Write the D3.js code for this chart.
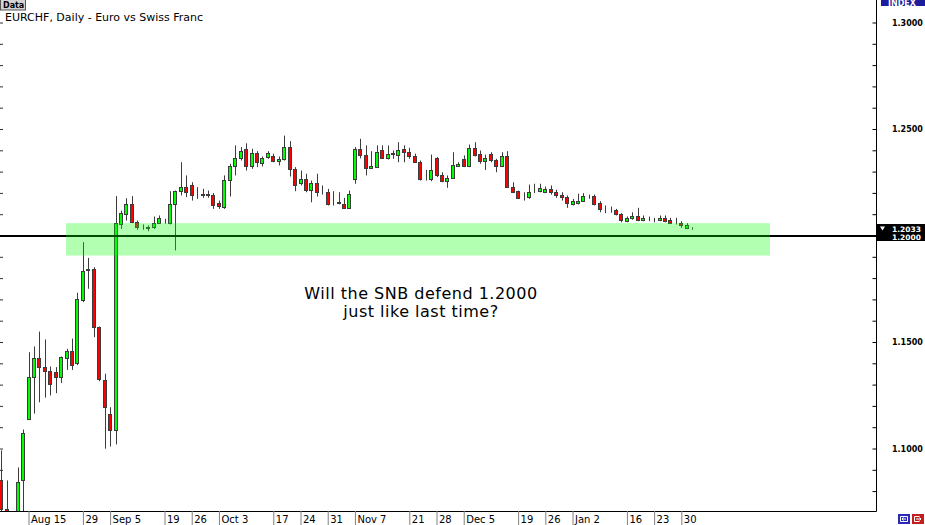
<!DOCTYPE html>
<html>
<head>
<meta charset="utf-8">
<script src="https://cdn.jsdelivr.net/npm/d3@7/dist/d3.min.js"></script>
<style>
body { margin: 0; background: #fff; }
svg { display: block; }
</style>
</head>
<body>
<div id="chart"></div>
<script>
// EURCHF daily bars, Aug 8 2011 - Feb 1 2012
var dates = [
  "2011-08-08","2011-08-09","2011-08-10","2011-08-11","2011-08-12",
  "2011-08-15","2011-08-16","2011-08-17","2011-08-18","2011-08-19",
  "2011-08-22","2011-08-23","2011-08-24","2011-08-25","2011-08-26",
  "2011-08-29","2011-08-30","2011-08-31","2011-09-01","2011-09-02",
  "2011-09-05","2011-09-06","2011-09-07","2011-09-08","2011-09-09",
  "2011-09-12","2011-09-13","2011-09-14","2011-09-15","2011-09-16",
  "2011-09-19","2011-09-20","2011-09-21","2011-09-22","2011-09-23",
  "2011-09-26","2011-09-27","2011-09-28","2011-09-29","2011-09-30",
  "2011-10-03","2011-10-04","2011-10-05","2011-10-06","2011-10-07",
  "2011-10-10","2011-10-11","2011-10-12","2011-10-13","2011-10-14",
  "2011-10-17","2011-10-18","2011-10-19","2011-10-20","2011-10-21",
  "2011-10-24","2011-10-25","2011-10-26","2011-10-27","2011-10-28",
  "2011-10-31","2011-11-01","2011-11-02","2011-11-03","2011-11-04",
  "2011-11-07","2011-11-08","2011-11-09","2011-11-10","2011-11-11",
  "2011-11-14","2011-11-15","2011-11-16","2011-11-17","2011-11-18",
  "2011-11-21","2011-11-22","2011-11-23","2011-11-24","2011-11-25",
  "2011-11-28","2011-11-29","2011-11-30","2011-12-01","2011-12-02",
  "2011-12-05","2011-12-06","2011-12-07","2011-12-08","2011-12-09",
  "2011-12-12","2011-12-13","2011-12-14","2011-12-15","2011-12-16",
  "2011-12-19","2011-12-20","2011-12-21","2011-12-22","2011-12-23",
  "2011-12-26","2011-12-27","2011-12-28","2011-12-29","2011-12-30",
  "2012-01-02","2012-01-03","2012-01-04","2012-01-05","2012-01-06",
  "2012-01-09","2012-01-10","2012-01-11","2012-01-12","2012-01-13",
  "2012-01-16","2012-01-17","2012-01-18","2012-01-19","2012-01-20",
  "2012-01-23","2012-01-24","2012-01-25","2012-01-26","2012-01-27",
  "2012-01-30","2012-01-31","2012-02-01"
];
var opens = [
  1.0850,1.0718,1.0450,1.0550,1.0850, 1.1139,1.1338,1.1426,1.1382,1.1366,
  1.1357,1.1338,1.1426,1.1457,1.1400, 1.1698,1.1844,1.1844,1.1570,1.1323,
  1.1160,1.1088,1.2052,1.2102,1.2149, 1.2062,1.2039,1.2033,1.2042,1.2060,
  1.2063,1.2058,1.2149,1.2211,1.2227, 1.2235,1.2192,1.2191,1.2193,1.2192,
  1.2154,1.2136,1.2262,1.2324,1.2363, 1.2404,1.2325,1.2386,1.2341,1.2368,
  1.2371,1.2349,1.2360,1.2415,1.2313, 1.2246,1.2266,1.2215,1.2247,1.2204,
  1.2203,1.2151,1.2154,1.2149,1.2128, 1.2266,1.2407,1.2380,1.2316,1.2321,
  1.2402,1.2365,1.2384,1.2380,1.2404, 1.2394,1.2372,1.2347,1.2266,1.2266,
  1.2363,1.2285,1.2255,1.2271,1.2327, 1.2360,1.2325,1.2412,1.2384,1.2349,
  1.2384,1.2355,1.2325,1.2371,1.2230, 1.2207,1.2180,1.2180,1.2207,1.2208,
  1.2203,1.2219,1.2203,1.2192,1.2180, 1.2149,1.2152,1.2164,1.2185,1.2185,
  1.2152,1.2122,1.2121,1.2121,1.2099, 1.2067,1.2083,1.2092,1.2074,1.2078,
  1.2074,1.2074,1.2083,1.2074,1.2058, 1.2058,1.2034,1.2034
];
var highs = [
  1.0991,1.0850,1.0650,1.0911,1.1089, 1.1452,1.1479,1.1549,1.1512,1.1385,
  1.1382,1.1432,1.1468,1.1516,1.1731, 1.1969,1.1895,1.1851,1.1573,1.1351,
  1.1194,1.2185,1.2117,1.2175,1.2185, 1.2070,1.2052,1.2047,1.2089,1.2094,
  1.2078,1.2208,1.2211,1.2344,1.2282, 1.2250,1.2227,1.2219,1.2211,1.2199,
  1.2164,1.2282,1.2337,1.2423,1.2415, 1.2433,1.2407,1.2396,1.2371,1.2396,
  1.2384,1.2371,1.2469,1.2443,1.2321, 1.2305,1.2290,1.2258,1.2290,1.2235,
  1.2219,1.2208,1.2203,1.2177,1.2211, 1.2415,1.2454,1.2423,1.2396,1.2423,
  1.2423,1.2423,1.2399,1.2438,1.2423, 1.2412,1.2384,1.2352,1.2308,1.2380,
  1.2368,1.2297,1.2282,1.2391,1.2344, 1.2376,1.2427,1.2438,1.2399,1.2380,
  1.2391,1.2360,1.2391,1.2396,1.2250, 1.2211,1.2203,1.2239,1.2243,1.2243,
  1.2230,1.2235,1.2215,1.2203,1.2188, 1.2172,1.2196,1.2199,1.2192,1.2192,
  1.2161,1.2141,1.2136,1.2125,1.2105, 1.2089,1.2109,1.2130,1.2094,1.2089,
  1.2083,1.2094,1.2094,1.2083,1.2083, 1.2067,1.2058,1.2039
];
var lows = [
  1.0620,1.0075,1.0300,1.0500,1.0680, 1.1135,1.1164,1.1217,1.1239,1.1249,
  1.1260,1.1307,1.1369,1.1369,1.1391, 1.1687,1.1750,1.1523,1.1316,1.0999,
  1.1009,1.1019,1.2031,1.2070,1.2058, 1.2027,1.2027,1.2020,1.2031,1.2055,
  1.2055,1.2052,1.1930,1.2188,1.2180, 1.2164,1.2172,1.2177,1.2177,1.2125,
  1.2125,1.2125,1.2183,1.2282,1.2352, 1.2305,1.2313,1.2321,1.2324,1.2360,
  1.2344,1.2329,1.2352,1.2277,1.2208, 1.2235,1.2203,1.2156,1.2183,1.2192,
  1.2141,1.2141,1.2146,1.2125,1.2125, 1.2243,1.2362,1.2282,1.2313,1.2318,
  1.2360,1.2357,1.2360,1.2344,1.2344, 1.2360,1.2341,1.2258,1.2258,1.2255,
  1.2274,1.2250,1.2224,1.2266,1.2324, 1.2321,1.2321,1.2371,1.2337,1.2308,
  1.2344,1.2297,1.2321,1.2224,1.2199, 1.2172,1.2164,1.2172,1.2199,1.2203,
  1.2199,1.2192,1.2177,1.2164,1.2130, 1.2141,1.2146,1.2160,1.2172,1.2141,
  1.2109,1.2105,1.2107,1.2094,1.2062, 1.2062,1.2074,1.2067,1.2067,1.2067,
  1.2062,1.2067,1.2062,1.2055,1.2052, 1.2036,1.2030,1.2027
];
var closes = [
  1.0718,1.0680,1.0550,1.0845,1.1072, 1.1338,1.1426,1.1382,1.1366,1.1304,
  1.1338,1.1429,1.1457,1.1394,1.1703, 1.1831,1.1840,1.1570,1.1327,1.1197,
  1.1085,1.2058,1.2105,1.2149,1.2062, 1.2042,1.2040,1.2042,1.2060,1.2083,
  1.2062,1.2149,1.2208,1.2227,1.2203, 1.2192,1.2191,1.2193,1.2192,1.2141,
  1.2139,1.2262,1.2324,1.2363,1.2399, 1.2325,1.2388,1.2344,1.2365,1.2386,
  1.2352,1.2360,1.2415,1.2313,1.2235, 1.2266,1.2215,1.2247,1.2203,1.2203,
  1.2149,1.2152,1.2155,1.2130,1.2196, 1.2407,1.2380,1.2318,1.2324,1.2394,
  1.2365,1.2384,1.2385,1.2402,1.2394, 1.2371,1.2347,1.2266,1.2267,1.2308,
  1.2282,1.2255,1.2271,1.2329,1.2337, 1.2325,1.2412,1.2380,1.2349,1.2365,
  1.2355,1.2325,1.2371,1.2230,1.2202, 1.2175,1.2180,1.2203,1.2208,1.2224,
  1.2219,1.2202,1.2191,1.2180,1.2154, 1.2164,1.2164,1.2185,1.2184,1.2146,
  1.2125,1.2122,1.2120,1.2099,1.2074, 1.2083,1.2092,1.2074,1.2083,1.2079,
  1.2073,1.2083,1.2070,1.2060,1.2057, 1.2047,1.2048,1.2033
];

var tickDates = ["2011-08-15","2011-08-29","2011-09-05","2011-09-19","2011-09-26",
  "2011-10-03","2011-10-17","2011-10-24","2011-10-31","2011-11-07","2011-11-21",
  "2011-11-28","2011-12-05","2011-12-19","2011-12-26","2012-01-02","2012-01-16",
  "2012-01-23","2012-01-30"];
var tickLabels = ["Aug 15","29","Sep 5","19","26","Oct 3","17","24","31","Nov 7",
  "21","28","Dec 5","19","26","Jan 2","16","23","30"];
var priceLabels = [1.1, 1.15, 1.25, 1.3];
var priceTicks = [1.08,1.09,1.10,1.11,1.12,1.13,1.14,1.15,1.16,1.17,1.18,1.19,1.20,
  1.21,1.22,1.23,1.24,1.25,1.26,1.27,1.28,1.29,1.30];

var floorLevel = 1.2000,
    lastPrice = 1.2033,
    zoneTop = 1.2058,
    zoneBottom = 1.1906;

var width = 925, height = 525,
    plotRight = 876, plotBottom = 511;

var svg = d3.select("#chart").append("svg")
    .attr("width", width)
    .attr("height", height)
    .style("font-family", "'DejaVu Sans', sans-serif");

var x = d3.scalePoint()
    .domain(dates)
    .range([1.3, 692.2]);
var y = d3.scaleLinear()
    .domain([1.1, 1.3])
    .range([448.5, 22.5]);

var bars = dates.map(function(d, i) {
  return {date: d, o: opens[i], h: highs[i], l: lows[i], c: closes[i]};
});

svg.append("clipPath")
    .attr("id", "plot-clip")
  .append("rect")
    .attr("width", plotRight)
    .attr("height", plotBottom);

var plot = svg.append("g")
    .attr("clip-path", "url(#plot-clip)");

// small ticks on the left edge
plot.append("g")
    .attr("class", "left ticks")
    .call(d3.axisRight(y).tickValues(priceTicks).tickSize(3).tickFormat(""))
    .call(function(g) { g.select(".domain").remove(); })
    .selectAll("line").attr("stroke", "#333");

// candles
var candle = plot.selectAll(".candle")
    .data(bars)
    .enter().append("g")
    .attr("class", "candle");

candle.append("line")
    .attr("x1", function(d) { return Math.round(x(d.date)) + 0.5; })
    .attr("x2", function(d) { return Math.round(x(d.date)) + 0.5; })
    .attr("y1", function(d) { return y(d.h); })
    .attr("y2", function(d) { return y(d.l); })
    .attr("stroke", "#3c3c3c")
    .attr("stroke-width", 1);

candle.append("rect")
    .attr("x", function(d) { return Math.round(x(d.date)) - 1.5; })
    .attr("width", 3)
    .attr("y", function(d) { return Math.round(y(Math.max(d.o, d.c))) + 0.5; })
    .attr("height", function(d) { return Math.max(0, Math.round(y(Math.min(d.o, d.c))) - Math.round(y(Math.max(d.o, d.c)))); })
    .attr("fill", function(d) { return d.c >= d.o ? "#00ff00" : "#ff0000"; })
    .attr("stroke", "#3c3c3c")
    .attr("stroke-width", 1);

// 1.2000 floor line
plot.append("line")
    .attr("x1", 0)
    .attr("x2", plotRight)
    .attr("y1", y(floorLevel) + 0.5)
    .attr("y2", y(floorLevel) + 0.5)
    .attr("stroke", "#000")
    .attr("stroke-width", 2);

// highlighted zone
plot.append("rect")
    .attr("x", 66)
    .attr("width", 704)
    .attr("y", y(zoneTop))
    .attr("height", y(zoneBottom) - y(zoneTop))
    .attr("fill", "#00ff00")
    .attr("fill-opacity", 0.3);

// annotation
svg.append("text")
    .attr("x", 421)
    .attr("y", 299)
    .attr("text-anchor", "middle")
    .style("font-size", "16px")
    .style("letter-spacing", "0.5px")
    .text("Will the SNB defend 1.2000");
svg.append("text")
    .attr("x", 421)
    .attr("y", 317)
    .attr("text-anchor", "middle")
    .style("font-size", "16px")
    .style("letter-spacing", "0.5px")
    .text("just like last time?");

// frame
svg.append("path")
    .attr("d", "M0," + (plotBottom + 0.5) + "H" + (plotRight + 0.5) + "V0")
    .attr("fill", "none")
    .attr("stroke", "#000")
    .attr("stroke-width", 1);

// price axis
svg.append("g")
    .attr("class", "y axis")
    .attr("transform", "translate(" + (plotRight + 0.5) + ",0)")
    .call(d3.axisLeft(y).tickValues(priceTicks).tickSize(4).tickFormat(""))
    .call(function(g) { g.select(".domain").remove(); })
    .selectAll("line").attr("stroke", "#000");

svg.append("g")
    .attr("class", "y labels")
    .selectAll("text")
    .data(priceLabels)
    .enter().append("text")
    .attr("x", 892)
    .attr("y", function(d) { return y(d) + 3; })
    .style("font-size", "8px")
    .style("font-weight", "bold")
    .text(function(d) { return d.toFixed(4); });

// current price / line label box
svg.append("rect")
    .attr("x", plotRight + 1)
    .attr("y", 224)
    .attr("width", width - plotRight - 1)
    .attr("height", 17)
    .attr("fill", "#000");
svg.append("path")
    .attr("d", "M880,226.5h5l-2.5,4z")
    .attr("fill", "#fff");
svg.append("text")
    .attr("x", 892)
    .attr("y", 231.5)
    .attr("fill", "#fff")
    .style("font-size", "7.5px")
    .style("font-weight", "bold")
    .text(lastPrice.toFixed(4));
svg.append("text")
    .attr("x", 892)
    .attr("y", 239.5)
    .attr("fill", "#fff")
    .style("font-size", "7.5px")
    .style("font-weight", "bold")
    .text(floorLevel.toFixed(4));

// INDEX tag at top right
svg.append("rect")
    .attr("x", 881)
    .attr("y", 0)
    .attr("width", 44)
    .attr("height", 6)
    .attr("fill", "#1c1c9c");
svg.append("text")
    .attr("x", 888)
    .attr("y", 5.5)
    .attr("fill", "#fff")
    .style("font-size", "8px")
    .style("font-weight", "bold")
    .text("INDEX");

// date axis
var xAxis = d3.axisBottom(x)
    .tickValues(tickDates)
    .tickSizeInner(14)
    .tickSizeOuter(0)
    .tickFormat(function(d, i) { return tickLabels[i]; });

svg.append("g")
    .attr("class", "x axis")
    .attr("transform", "translate(0," + plotBottom + ")")
    .call(xAxis)
    .call(function(g) { g.select(".domain").remove(); })
    .call(function(g) {
      g.selectAll(".tick line").attr("stroke", "#808080");
      g.selectAll(".tick text")
        .attr("text-anchor", "start")
        .attr("x", 2)
        .attr("y", 4.5)
        .attr("fill", "#000")
        .style("font-size", "10px")
        .style("font-family", "'DejaVu Sans', sans-serif");
    });

// title and data tag
svg.append("rect")
    .attr("x", 0.5)
    .attr("y", -1)
    .attr("width", 25)
    .attr("height", 11)
    .attr("fill", "#d4d4d4")
    .attr("stroke", "#555");
svg.append("text")
    .attr("x", 3)
    .attr("y", 8)
    .style("font-size", "8px")
    .style("font-weight", "bold")
    .text("Data");
svg.append("text")
    .attr("x", 5)
    .attr("y", 20.5)
    .style("font-size", "11px")
    .text("EURCHF, Daily - Euro vs Swiss Franc");

// scroll buttons bottom right
svg.append("rect")
    .attr("x", 898).attr("y", 514).attr("width", 12).attr("height", 10)
    .attr("fill", "#2a2ab4");
svg.append("path")
    .attr("d", "M900.5,516.5h7v5h-7zM902,519h4M903.5,517.5l-1.5,1.5l1.5,1.5")
    .attr("fill", "none").attr("stroke", "#fff");
svg.append("rect")
    .attr("x", 912).attr("y", 514).attr("width", 12).attr("height", 10)
    .attr("fill", "#c41e1e");
svg.append("path")
    .attr("d", "M914.5,516.5h5M914.5,521.5h5M914.5,516.5v5M916,519h5M919.5,517.5l1.5,1.5l-1.5,1.5")
    .attr("fill", "none").attr("stroke", "#fff");
</script>
</body>
</html>
